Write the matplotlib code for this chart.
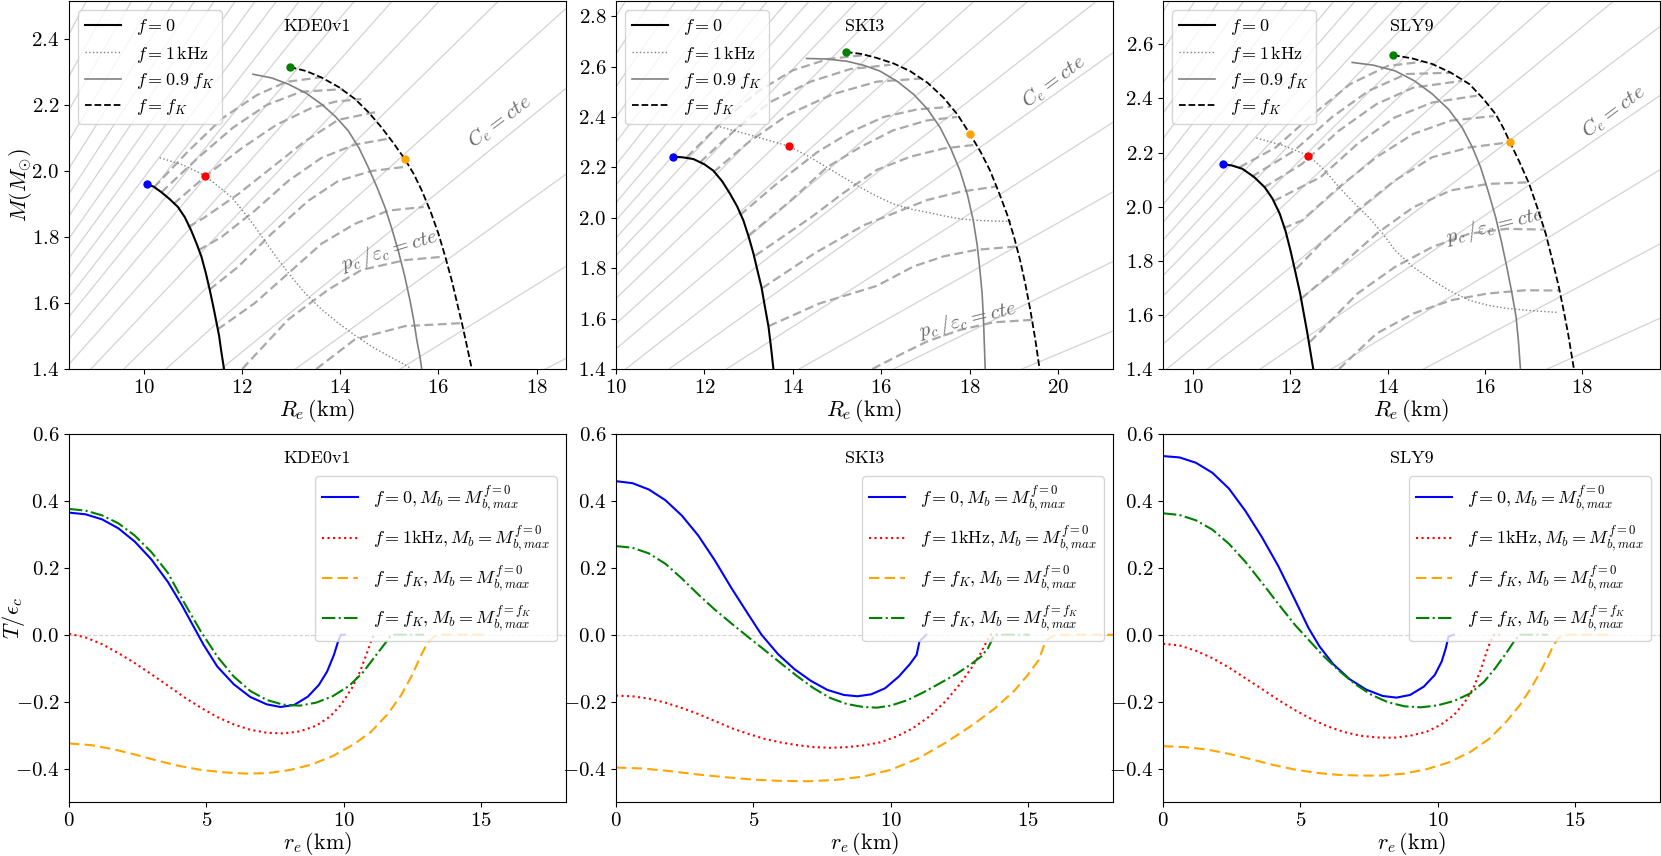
import matplotlib
matplotlib.use("Agg")
import matplotlib.pyplot as plt

plt.rcParams.update({
    "font.family": "serif",
    "font.serif": ["cmr10"],
    "mathtext.fontset": "cm",
    "axes.formatter.use_mathtext": True,
    "axes.unicode_minus": True,
})

# ---------------- mass-radius data ----------------
eos_names = ["KDE0v1", "SKI3", "SLY9"]

# KDE0v1
kde_f0_R = [10.05, 10.2, 10.35, 10.52, 10.69, 10.83, 10.96, 11.07, 11.17, 11.26, 11.34, 11.41, 11.48, 11.53, 11.57, 11.63]
kde_f0_M = [1.961, 1.952, 1.936, 1.915, 1.891, 1.86, 1.820, 1.78, 1.740, 1.69, 1.639, 1.59, 1.538, 1.50, 1.457, 1.40]
kde_1k_R = [10.32, 10.8, 11.24, 11.5, 11.78, 12.02, 12.26, 12.5, 12.74, 13.0, 13.28, 13.6, 13.96, 14.3, 14.64, 15.0, 15.32, 15.45]
kde_1k_M = [2.040, 2.018, 1.986, 1.955, 1.921, 1.878, 1.831, 1.78, 1.730, 1.68, 1.630, 1.583, 1.539, 1.502, 1.468, 1.438, 1.413, 1.40]
kde_09_R = [12.22, 12.6, 12.94, 13.3, 13.62, 13.9, 14.16, 14.38, 14.57, 14.75, 14.91, 15.05, 15.18, 15.31, 15.42, 15.5, 15.56, 15.62, 15.66]
kde_09_M = [2.293, 2.282, 2.263, 2.236, 2.202, 2.165, 2.122, 2.07, 2.011, 1.95, 1.890, 1.825, 1.759, 1.683, 1.608, 1.545, 1.487, 1.44, 1.40]
kde_fk_R = [12.97, 13.3, 13.62, 13.97, 14.30, 14.58, 14.84, 15.08, 15.31, 15.5, 15.66, 15.84, 16.00, 16.14, 16.27, 16.38, 16.48, 16.58, 16.68]
kde_fk_M = [2.315, 2.303, 2.283, 2.254, 2.218, 2.177, 2.132, 2.085, 2.037, 1.99, 1.941, 1.877, 1.810, 1.74, 1.669, 1.60, 1.538, 1.47, 1.40]
kde_dots_R = [10.05, 11.24, 12.97, 15.31]
kde_dots_M = [1.961, 1.986, 2.315, 2.037]
kde_seq_R = [
    [10.2, 10.9, 11.6, 12.3, 12.9, 13.62],
    [10.35, 11.1, 11.8, 12.5, 13.2, 14.06],
    [10.6, 11.3, 12.0, 12.7, 13.4, 13.9, 14.43],
    [10.9, 11.24, 11.92, 12.6, 13.28, 13.96, 14.71],
    [11.11, 11.58, 12.26, 12.94, 13.62, 14.30, 14.95],
    [11.33, 11.92, 12.6, 13.35, 13.96, 14.64, 15.29],
    [11.5, 12.26, 12.94, 13.62, 14.30, 14.98, 15.70],
    [12.0, 12.94, 13.75, 14.43, 15.32, 16.08],
    [13.51, 14.3, 15.32, 16.48],
]
kde_seq_M = [
    [1.95, 2.06, 2.16, 2.23, 2.27, 2.284],
    [1.935, 2.04, 2.13, 2.20, 2.24, 2.248],
    [1.90, 1.99, 2.07, 2.14, 2.19, 2.21, 2.218],
    [1.83, 1.86, 1.93, 2.01, 2.09, 2.155, 2.178],
    [1.76, 1.80, 1.88, 1.97, 2.04, 2.08, 2.097],
    [1.64, 1.71, 1.81, 1.91, 1.97, 2.0, 2.012],
    [1.52, 1.60, 1.69, 1.78, 1.84, 1.88, 1.891],
    [1.40, 1.55, 1.64, 1.70, 1.73, 1.74],
    [1.40, 1.49, 1.53, 1.539],
]
kde_comp = [0.30, 0.285, 0.27, 0.258, 0.247, 0.237, 0.228, 0.22, 0.212, 0.205, 0.198,
            0.191, 0.184, 0.176, 0.167, 0.157, 0.146, 0.134, 0.121, 0.107, 0.092, 0.077]

# SKI3
ski_f0_R = [11.30, 11.5, 11.75, 12.0, 12.20, 12.4, 12.58, 12.74, 12.88, 13.0, 13.11, 13.2, 13.29, 13.37, 13.45, 13.51, 13.56]
ski_f0_M = [2.242, 2.240, 2.233, 2.212, 2.187, 2.145, 2.095, 2.045, 1.99, 1.925, 1.857, 1.79, 1.725, 1.645, 1.567, 1.48, 1.40]
ski_1k_R = [12.35, 13.1, 13.91, 14.35, 14.77, 15.15, 15.52, 15.9, 16.27, 16.65, 17.03, 17.4, 17.78, 18.15, 18.53, 18.95]
ski_1k_M = [2.361, 2.325, 2.284, 2.244, 2.20, 2.16, 2.121, 2.085, 2.055, 2.035, 2.022, 2.008, 1.996, 1.99, 1.987, 1.986]
ski_09_R = [14.31, 14.75, 15.22, 15.6, 15.97, 16.37, 16.73, 17.05, 17.33, 17.57, 17.78, 17.95, 18.08, 18.17, 18.23, 18.28, 18.31, 18.33, 18.35]
ski_09_M = [2.632, 2.630, 2.621, 2.605, 2.582, 2.54, 2.490, 2.43, 2.358, 2.275, 2.187, 2.09, 1.989, 1.89, 1.792, 1.70, 1.60, 1.50, 1.40]
ski_fk_R = [15.20, 15.55, 15.90, 16.28, 16.65, 17.05, 17.41, 17.72, 18.01, 18.25, 18.46, 18.66, 18.84, 19.0, 19.14, 19.26, 19.37, 19.48, 19.58]
ski_fk_M = [2.658, 2.650, 2.634, 2.612, 2.582, 2.535, 2.476, 2.41, 2.331, 2.26, 2.187, 2.10, 2.016, 1.925, 1.831, 1.735, 1.634, 1.52, 1.40]
ski_dots_R = [11.30, 13.91, 15.20, 18.01]
ski_dots_M = [2.242, 2.284, 2.658, 2.331]
ski_seq_R = [
    [11.6, 12.4, 13.2, 14.0, 14.8, 15.6],
    [11.9, 12.7, 13.5, 14.4, 15.3, 16.21],
    [12.2, 13.0, 13.9, 14.9, 15.9, 16.88],
    [12.8, 13.6, 14.55, 15.3, 16.06, 16.81, 17.56],
    [13.0, 13.9, 14.77, 15.52, 16.27, 17.03, 17.71],
    [13.15, 14.4, 15.14, 15.9, 16.65, 17.41, 18.15],
    [13.3, 14.5, 15.6, 16.27, 17.03, 17.78, 18.6],
    [13.45, 14.6, 15.9, 16.73, 17.41, 18.16, 19.05],
    [15.8, 16.27, 17.03, 17.78, 18.53, 19.4],
]
ski_seq_M = [
    [2.24, 2.38, 2.50, 2.585, 2.63, 2.645],
    [2.22, 2.35, 2.46, 2.54, 2.59, 2.607],
    [2.18, 2.30, 2.41, 2.49, 2.54, 2.552],
    [2.01, 2.13, 2.26, 2.34, 2.40, 2.43, 2.44],
    [1.93, 2.06, 2.20, 2.28, 2.347, 2.386, 2.40],
    [1.85, 2.0, 2.098, 2.19, 2.242, 2.275, 2.29],
    [1.72, 1.86, 1.97, 2.017, 2.07, 2.103, 2.124],
    [1.57, 1.66, 1.73, 1.807, 1.847, 1.873, 1.886],
    [1.40, 1.443, 1.509, 1.555, 1.585, 1.595],
]
ski_comp = [0.28, 0.265, 0.252, 0.24, 0.23, 0.221, 0.213, 0.206, 0.199, 0.192, 0.185,
            0.177, 0.168, 0.158, 0.148, 0.137, 0.125, 0.112, 0.099, 0.086, 0.073]

# SLY9
sly_f0_R = [10.61, 10.8, 11.01, 11.25, 11.47, 11.63, 11.78, 11.9, 12.0, 12.1, 12.2, 12.28, 12.35, 12.41, 12.47]
sly_f0_M = [2.157, 2.152, 2.140, 2.11, 2.072, 2.03, 1.974, 1.91, 1.839, 1.76, 1.679, 1.60, 1.531, 1.465, 1.40]
sly_1k_R = [11.30, 11.85, 12.37, 12.7, 13.0, 13.3, 13.61, 13.9, 14.15, 14.5, 14.92, 15.3, 15.68, 16.05, 16.45, 17.0, 17.52]
sly_1k_M = [2.254, 2.226, 2.189, 2.135, 2.072, 2.015, 1.961, 1.9, 1.839, 1.78, 1.728, 1.687, 1.654, 1.636, 1.624, 1.615, 1.609]
sly_09_R = [13.27, 13.7, 14.15, 14.55, 14.92, 15.25, 15.53, 15.74, 15.91, 16.07, 16.22, 16.34, 16.45, 16.55, 16.64, 16.69, 16.73]
sly_09_M = [2.533, 2.523, 2.502, 2.465, 2.416, 2.36, 2.293, 2.22, 2.146, 2.055, 1.961, 1.87, 1.777, 1.685, 1.593, 1.50, 1.40]
sly_fk_R = [14.11, 14.5, 14.92, 15.3, 15.68, 15.96, 16.22, 16.38, 16.51, 16.71, 16.91, 17.08, 17.25, 17.39, 17.52, 17.62, 17.71, 17.77, 17.83]
sly_fk_M = [2.560, 2.548, 2.527, 2.495, 2.453, 2.40, 2.342, 2.29, 2.240, 2.165, 2.084, 1.995, 1.900, 1.80, 1.703, 1.615, 1.531, 1.465, 1.40]
sly_dots_R = [10.61, 12.37, 14.11, 16.51]
sly_dots_M = [2.157, 2.189, 2.560, 2.240]
sly_seq_R = [
    [10.95, 11.70, 12.47, 13.23, 14.0, 14.69],
    [11.2, 12.08, 12.85, 13.61, 14.38, 15.30],
    [11.45, 12.24, 13.0, 13.77, 14.53, 15.53],
    [11.65, 12.62, 13.38, 14.15, 14.92, 15.83],
    [11.85, 12.24, 13.0, 13.77, 14.53, 15.30, 16.18],
    [12.12, 12.62, 13.38, 14.15, 14.92, 15.68, 16.51],
    [12.22, 13.0, 13.77, 14.53, 15.30, 16.06, 16.91],
    [12.40, 13.38, 14.15, 14.92, 15.68, 16.45, 17.25],
    [13.0, 13.77, 14.53, 15.30, 16.06, 16.83, 17.54],
]
sly_seq_M = [
    [2.145, 2.219, 2.342, 2.453, 2.52, 2.535],
    [2.11, 2.207, 2.33, 2.428, 2.49, 2.495],
    [2.07, 2.158, 2.281, 2.379, 2.44, 2.465],
    [2.02, 2.109, 2.232, 2.33, 2.385, 2.41],
    [1.92, 1.949, 2.072, 2.183, 2.269, 2.318, 2.335],
    [1.77, 1.863, 1.986, 2.097, 2.183, 2.219, 2.238],
    [1.66, 1.777, 1.90, 1.998, 2.06, 2.084, 2.090],
    [1.50, 1.679, 1.777, 1.851, 1.90, 1.918, 1.915],
    [1.40, 1.531, 1.605, 1.654, 1.679, 1.691, 1.69],
]
sly_comp = [0.29, 0.275, 0.262, 0.25, 0.24, 0.231, 0.222, 0.214, 0.207, 0.2, 0.193,
            0.186, 0.178, 0.169, 0.159, 0.148, 0.136, 0.123, 0.109, 0.095, 0.081]

# ---------------- T / eps_c profiles ----------------
kde_blue_r = [0, 0.6, 1.2, 1.8, 2.4, 3.0, 3.6, 4.1, 4.5, 4.9, 5.4, 6.0, 6.6, 7.2, 7.7, 8.2, 8.7, 9.1, 9.4, 9.65, 9.8, 9.9, 10.05]
kde_blue_T = [0.365, 0.360, 0.345, 0.318, 0.278, 0.225, 0.158, 0.09, 0.03, -0.03, -0.095, -0.148, -0.186, -0.208, -0.216, -0.210, -0.185, -0.150, -0.11, -0.06, -0.02, 0.0, 0.0]
kde_red_r = [0, 0.6, 1.2, 1.8, 2.4, 3.0, 3.6, 4.2, 4.8, 5.4, 6.0, 6.6, 7.2, 7.8, 8.4, 9.0, 9.5, 9.9, 10.3, 10.6, 10.85, 11.0, 11.11]
kde_red_T = [0.003, -0.008, -0.028, -0.055, -0.085, -0.118, -0.152, -0.187, -0.218, -0.246, -0.268, -0.284, -0.293, -0.295, -0.289, -0.272, -0.245, -0.21, -0.16, -0.11, -0.055, -0.02, 0.0]
kde_orange_r = [0, 0.8, 1.6, 2.4, 3.2, 4.0, 4.8, 5.6, 6.4, 7.2, 8.0, 8.8, 9.6, 10.4, 11.0, 11.6, 12.1, 12.5, 12.8, 13.05, 13.3, 13.5, 15.24]
kde_orange_T = [-0.325, -0.330, -0.342, -0.358, -0.376, -0.392, -0.404, -0.411, -0.415, -0.414, -0.405, -0.389, -0.363, -0.326, -0.29, -0.238, -0.18, -0.12, -0.065, -0.025, -0.005, 0.0, 0.0]
kde_green_r = [0, 0.6, 1.2, 1.8, 2.4, 3.0, 3.6, 4.2, 4.8, 5.4, 6.0, 6.6, 7.2, 7.8, 8.4, 9.0, 9.6, 10.2, 10.7, 11.1, 11.4, 11.7, 11.85, 12.93]
kde_green_T = [0.376, 0.371, 0.357, 0.333, 0.296, 0.247, 0.185, 0.095, 0.01, -0.065, -0.125, -0.168, -0.195, -0.209, -0.212, -0.203, -0.184, -0.153, -0.113, -0.07, -0.038, -0.005, 0.0, 0.0]

ski_blue_r = [0, 0.6, 1.2, 1.8, 2.4, 3.0, 3.6, 4.2, 4.8, 5.3, 5.9, 6.5, 7.1, 7.7, 8.3, 8.8, 9.3, 9.8, 10.3, 10.7, 10.95, 11.05, 11.3]
ski_blue_T = [0.459, 0.453, 0.434, 0.402, 0.356, 0.296, 0.222, 0.140, 0.063, 0.0, -0.058, -0.103, -0.138, -0.165, -0.180, -0.184, -0.178, -0.160, -0.125, -0.088, -0.06, -0.02, 0.0]
ski_red_r = [0, 0.6, 1.2, 1.8, 2.4, 3.0, 3.6, 4.2, 4.8, 5.4, 6.0, 6.6, 7.2, 7.8, 8.4, 9.0, 9.6, 10.2, 10.8, 11.4, 12.0, 12.5, 12.9, 13.25, 13.5, 13.65, 13.87]
ski_red_T = [-0.182, -0.184, -0.191, -0.203, -0.219, -0.237, -0.258, -0.279, -0.296, -0.311, -0.322, -0.330, -0.336, -0.338, -0.336, -0.331, -0.322, -0.305, -0.280, -0.245, -0.199, -0.15, -0.105, -0.06, -0.02, 0.0, 0.0]
ski_orange_r = [0, 1.0, 2.0, 3.0, 4.0, 5.0, 6.0, 7.0, 8.0, 9.0, 10.0, 11.0, 12.0, 13.0, 13.8, 14.5, 15.0, 15.4, 15.55, 15.7, 16.0, 18.1]
ski_orange_T = [-0.397, -0.400, -0.408, -0.418, -0.426, -0.433, -0.437, -0.438, -0.434, -0.424, -0.404, -0.370, -0.323, -0.269, -0.22, -0.168, -0.12, -0.075, -0.04, -0.015, 0.0, 0.0]
ski_green_r = [0, 0.6, 1.2, 1.8, 2.4, 3.0, 3.6, 4.2, 4.8, 5.4, 6.0, 6.6, 7.2, 7.8, 8.4, 9.0, 9.5, 10.0, 10.6, 11.2, 11.8, 12.4, 12.9, 13.3, 13.55, 13.75, 13.9, 15.07]
ski_green_T = [0.265, 0.260, 0.243, 0.212, 0.168, 0.12, 0.075, 0.034, -0.006, -0.045, -0.085, -0.124, -0.160, -0.189, -0.207, -0.216, -0.218, -0.212, -0.196, -0.172, -0.145, -0.117, -0.09, -0.065, -0.04, -0.005, 0.0, 0.0]

sly_blue_r = [0, 0.6, 1.2, 1.8, 2.4, 3.0, 3.6, 4.2, 4.8, 5.3, 5.7, 6.2, 6.8, 7.4, 8.0, 8.5, 9.0, 9.5, 9.9, 10.15, 10.3, 10.4, 10.59]
sly_blue_T = [0.534, 0.530, 0.514, 0.484, 0.437, 0.37, 0.292, 0.205, 0.105, 0.02, -0.035, -0.088, -0.133, -0.164, -0.183, -0.188, -0.180, -0.155, -0.12, -0.08, -0.04, -0.005, 0.0]
sly_red_r = [0, 0.6, 1.2, 1.8, 2.4, 3.0, 3.6, 4.2, 4.8, 5.4, 6.0, 6.6, 7.2, 7.8, 8.4, 9.0, 9.6, 10.1, 10.6, 11.0, 11.3, 11.55, 11.75, 11.9, 12.05, 12.27]
sly_red_T = [-0.027, -0.032, -0.048, -0.07, -0.098, -0.13, -0.162, -0.195, -0.225, -0.252, -0.274, -0.291, -0.302, -0.307, -0.308, -0.302, -0.29, -0.27, -0.24, -0.2, -0.16, -0.11, -0.06, -0.025, 0.0, 0.0]
sly_orange_r = [0, 0.8, 1.6, 2.4, 3.2, 4.0, 4.8, 5.6, 6.4, 7.2, 8.0, 8.8, 9.6, 10.4, 11.2, 11.9, 12.5, 13.0, 13.4, 13.75, 14.0, 14.2, 14.4, 14.6, 16.31]
sly_orange_T = [-0.333, -0.336, -0.343, -0.356, -0.372, -0.389, -0.403, -0.413, -0.419, -0.421, -0.421, -0.415, -0.402, -0.382, -0.350, -0.31, -0.26, -0.21, -0.16, -0.11, -0.07, -0.035, -0.01, 0.0, 0.0]
sly_green_r = [0, 0.6, 1.2, 1.8, 2.4, 3.0, 3.6, 4.2, 4.8, 5.3, 5.8, 6.4, 7.0, 7.6, 8.2, 8.8, 9.4, 10.0, 10.6, 11.2, 11.7, 12.1, 12.5, 12.8, 13.0, 14.02]
sly_green_T = [0.363, 0.358, 0.342, 0.314, 0.272, 0.218, 0.156, 0.092, 0.03, -0.015, -0.06, -0.107, -0.148, -0.180, -0.202, -0.214, -0.217, -0.211, -0.198, -0.175, -0.14, -0.10, -0.055, -0.018, 0.0, 0.0]

top_labels = [r"$f=0$", r"$f=1\,\mathrm{kHz}$", r"$f=0.9\;f_K$", r"$f=f_K$"]
bottom_labels = [
    r"$f=0, M_b=M_{b,max}^{f=0}$",
    r"$f=1\mathrm{kHz}, M_b=M_{b,max}^{f=0}$",
    r"$f=f_K, M_b=M_{b,max}^{f=0}$",
    r"$f=f_K, M_b=M_{b,max}^{f=f_K}$",
]

top_panels = [
    dict(f0=(kde_f0_R, kde_f0_M), f1k=(kde_1k_R, kde_1k_M), f09=(kde_09_R, kde_09_M),
         fk=(kde_fk_R, kde_fk_M), dots=(kde_dots_R, kde_dots_M), seq=(kde_seq_R, kde_seq_M),
         comp=kde_comp, xlim=(8.47, 18.6), ylim=(1.4, 2.515), xt=[10, 12, 14, 16, 18],
         yt=[1.4, 1.6, 1.8, 2.0, 2.2, 2.4], ce=(17.25, 2.15), pc=(15.0, 1.76), pc_rot=17),
    dict(f0=(ski_f0_R, ski_f0_M), f1k=(ski_1k_R, ski_1k_M), f09=(ski_09_R, ski_09_M),
         fk=(ski_fk_R, ski_fk_M), dots=(ski_dots_R, ski_dots_M), seq=(ski_seq_R, ski_seq_M),
         comp=ski_comp, xlim=(10.0, 21.24), ylim=(1.4, 2.86), xt=[10, 12, 14, 16, 18, 20],
         yt=[1.4, 1.6, 1.8, 2.0, 2.2, 2.4, 2.6, 2.8], ce=(19.9, 2.54), pc=(17.95, 1.595), pc_rot=14),
    dict(f0=(sly_f0_R, sly_f0_M), f1k=(sly_1k_R, sly_1k_M), f09=(sly_09_R, sly_09_M),
         fk=(sly_fk_R, sly_fk_M), dots=(sly_dots_R, sly_dots_M), seq=(sly_seq_R, sly_seq_M),
         comp=sly_comp, xlim=(9.38, 19.6), ylim=(1.4, 2.76), xt=[10, 12, 14, 16, 18],
         yt=[1.4, 1.6, 1.8, 2.0, 2.2, 2.4, 2.6], ce=(18.65, 2.35), pc=(16.2, 1.93), pc_rot=14),
]

bottom_panels = [
    [(kde_blue_r, kde_blue_T), (kde_red_r, kde_red_T), (kde_orange_r, kde_orange_T), (kde_green_r, kde_green_T)],
    [(ski_blue_r, ski_blue_T), (ski_red_r, ski_red_T), (ski_orange_r, ski_orange_T), (ski_green_r, ski_green_T)],
    [(sly_blue_r, sly_blue_T), (sly_red_r, sly_red_T), (sly_orange_r, sly_orange_T), (sly_green_r, sly_green_T)],
]

dot_colors = ["blue", "red", "green", "orange"]
profile_styles = [("blue", "-"), ("red", ":"), ("orange", (0, (5, 2.5))), ("green", "-.")]

W, H = 1661, 856
fig = plt.figure(figsize=(W / 100, H / 100), dpi=100)
lefts = [69, 616, 1163]
panel_w = 497
panel_h = 368

tick_fs = 15
label_fs = 16

for i, p in enumerate(top_panels):
    ax = fig.add_axes([lefts[i] / W, 1 - 369 / H, panel_w / W, panel_h / H])
    for c in p["comp"]:
        ax.axline((0, 0), slope=c, color="lightgray", lw=0.9, zorder=0)
    for rr, mm in zip(*p["seq"]):
        ax.plot(rr, mm, color="darkgray", lw=1.6, dashes=(4, 2), zorder=1)
    h0, = ax.plot(*p["f0"], color="black", lw=1.5, zorder=3)
    h1, = ax.plot(*p["f1k"], color="gray", lw=1.0, ls=":", zorder=3)
    h2, = ax.plot(*p["f09"], color="gray", lw=1.2, zorder=3)
    h3, = ax.plot(*p["fk"], color="black", lw=1.3, ls="--", zorder=3)
    for xr, ym, col in zip(*p["dots"], dot_colors):
        ax.plot(xr, ym, "o", color=col, ms=5, zorder=5)
    ax.text(*p["ce"], r"$C_e = cte$", rotation=37, color="dimgray", fontsize=15,
            ha="center", va="center")
    ax.text(*p["pc"], r"$p_c\,/\varepsilon_c = cte$", rotation=p["pc_rot"], color="dimgray",
            fontsize=15, ha="center", va="center")
    ax.text(0.5, 0.932, eos_names[i], transform=ax.transAxes, fontsize=13, ha="center", va="center")
    ax.set_xlim(*p["xlim"])
    ax.set_ylim(*p["ylim"])
    ax.set_xticks(p["xt"])
    ax.set_yticks(p["yt"])
    ax.tick_params(labelsize=tick_fs)
    ax.set_xlabel(r"$R_e\,(\mathrm{km})$", fontsize=label_fs)
    ax.xaxis.set_label_coords(0.5, -0.075)
    if i == 0:
        ax.set_ylabel(r"$M(M_{\odot})$", fontsize=label_fs)
        ax.yaxis.set_label_coords(-0.07, 0.5)
    ax.legend([h0, h1, h2, h3], top_labels, loc="upper left", fontsize=13, labelspacing=0.35)

for i, curves in enumerate(bottom_panels):
    ax = fig.add_axes([lefts[i] / W, 1 - 802 / H, panel_w / W, panel_h / H])
    ax.axhline(0, color="lightgray", ls="--", lw=0.8, zorder=0)
    handles = []
    for (rr, tt), (col, ls) in zip(curves, profile_styles):
        h, = ax.plot(rr, tt, color=col, ls=ls, lw=1.5)
        handles.append(h)
    ax.text(0.5, 0.935, eos_names[i], transform=ax.transAxes, fontsize=13, ha="center", va="center")
    ax.set_xlim(0, 18.1)
    ax.set_ylim(-0.5, 0.6)
    ax.set_xticks([0, 5, 10, 15])
    ax.set_yticks([-0.4, -0.2, 0.0, 0.2, 0.4, 0.6])
    ax.tick_params(labelsize=tick_fs)
    ax.set_xlabel(r"$r_e\,(\mathrm{km})$", fontsize=label_fs)
    ax.xaxis.set_label_coords(0.5, -0.075)
    if i == 0:
        ax.set_ylabel(r"$T/\epsilon_c$", fontsize=label_fs)
        ax.yaxis.set_label_coords(-0.085, 0.5)
    ax.legend(handles, bottom_labels, loc="upper right", bbox_to_anchor=(1.0, 0.91),
              fontsize=13, labelspacing=0.55)

fig.savefig("out.png", dpi=100)
